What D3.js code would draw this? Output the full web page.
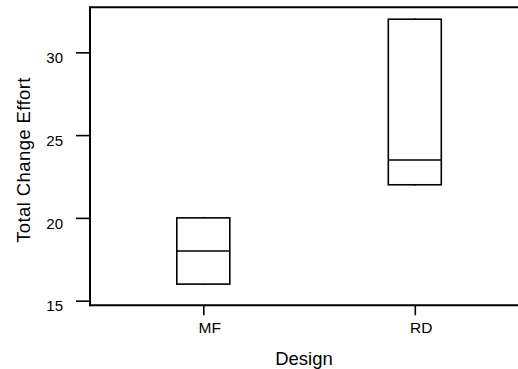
<!DOCTYPE html>
<html>
<head>
<meta charset="utf-8">
<script src="https://cdn.jsdelivr.net/npm/d3@7/dist/d3.min.js"></script>
<style>
  html, body { margin: 0; padding: 0; background: #fff; }
  svg { display: block; }
  text { font-family: "Liberation Sans", Arial, Helvetica, sans-serif; fill: #000; }
</style>
</head>
<body>
<svg id="chart" width="518" height="369"></svg>
<script>
const categories = ["MF", "RD"];
const whiskerLow = [16, 22];
const q1 = [16, 22];
const median = [18, 23.5];
const q3 = [20, 32];
const whiskerHigh = [20, 32];
const yTicks = [15, 20, 25, 30];

const svg = d3.select("#chart");
const mLeft = 90, mTop = 7.3, mBottom = 305.3, mRight = 528;

const y = d3.scaleLinear().domain([14.72, 32.72]).range([mBottom, mTop]);
const x = d3.scalePoint().domain(categories).range([203.3, 414.8]);
const boxW = 53;

// frame
svg.append("line").attr("x1", mLeft).attr("x2", mRight).attr("y1", mTop).attr("y2", mTop)
  .attr("stroke", "#000").attr("stroke-width", 2);

// y axis
const ya = svg.append("g").attr("transform", `translate(${mLeft},0)`)
  .call(d3.axisLeft(y).tickValues(yTicks).tickSize(14).tickPadding(13).tickSizeOuter(0));
ya.select(".domain").remove();
ya.selectAll(".tick line").attr("stroke", "#000").attr("stroke-width", 1.6);
ya.selectAll(".tick text").style("font-size", "15px").attr("dy", "0.68em").attr("fill", "#000");
svg.append("line").attr("x1", mLeft).attr("x2", mLeft).attr("y1", mTop - 1).attr("y2", mBottom + 1)
  .attr("stroke", "#000").attr("stroke-width", 2);

// x axis
const xa = svg.append("g").attr("transform", `translate(0,${mBottom})`)
  .call(d3.axisBottom(x).tickSize(10).tickPadding(8).tickSizeOuter(0));
xa.select(".domain").remove();
xa.selectAll(".tick line").attr("stroke", "#000").attr("stroke-width", 1.6);
xa.selectAll(".tick text").style("font-size", "15.5px").attr("dx", 6).attr("dy", "0.62em").attr("fill", "#000");
svg.append("line").attr("x1", mLeft).attr("x2", mRight).attr("y1", mBottom).attr("y2", mBottom)
  .attr("stroke", "#000").attr("stroke-width", 2);

// boxes
const boxes = svg.append("g").selectAll("g").data(categories).join("g");
boxes.append("line")
  .attr("x1", (d) => x(d)).attr("x2", (d) => x(d))
  .attr("y1", (d, i) => y(q3[i])).attr("y2", (d, i) => y(whiskerHigh[i]) - 1)
  .attr("stroke", "#000").attr("stroke-width", 1);
boxes.append("line")
  .attr("x1", (d) => x(d)).attr("x2", (d) => x(d))
  .attr("y1", (d, i) => y(q1[i])).attr("y2", (d, i) => y(whiskerLow[i]) + 1)
  .attr("stroke", "#000").attr("stroke-width", 1);
boxes.append("rect")
  .attr("x", (d) => x(d) - boxW / 2)
  .attr("width", boxW)
  .attr("y", (d, i) => y(q3[i]))
  .attr("height", (d, i) => y(q1[i]) - y(q3[i]))
  .attr("fill", "none").attr("stroke", "#000").attr("stroke-width", 1.6);
boxes.append("line")
  .attr("x1", (d) => x(d) - boxW / 2).attr("x2", (d) => x(d) + boxW / 2)
  .attr("y1", (d, i) => y(median[i])).attr("y2", (d, i) => y(median[i]))
  .attr("stroke", "#000").attr("stroke-width", 1.6);

// titles
svg.append("text").attr("x", 304).attr("y", 365).attr("text-anchor", "middle")
  .style("font-size", "18.5px").text("Design");
svg.append("text").attr("transform", "translate(30,160) rotate(-90)").attr("text-anchor", "middle")
  .style("font-size", "18.5px").attr("letter-spacing", 0.4).text("Total Change Effort");
</script>
</body>
</html>
